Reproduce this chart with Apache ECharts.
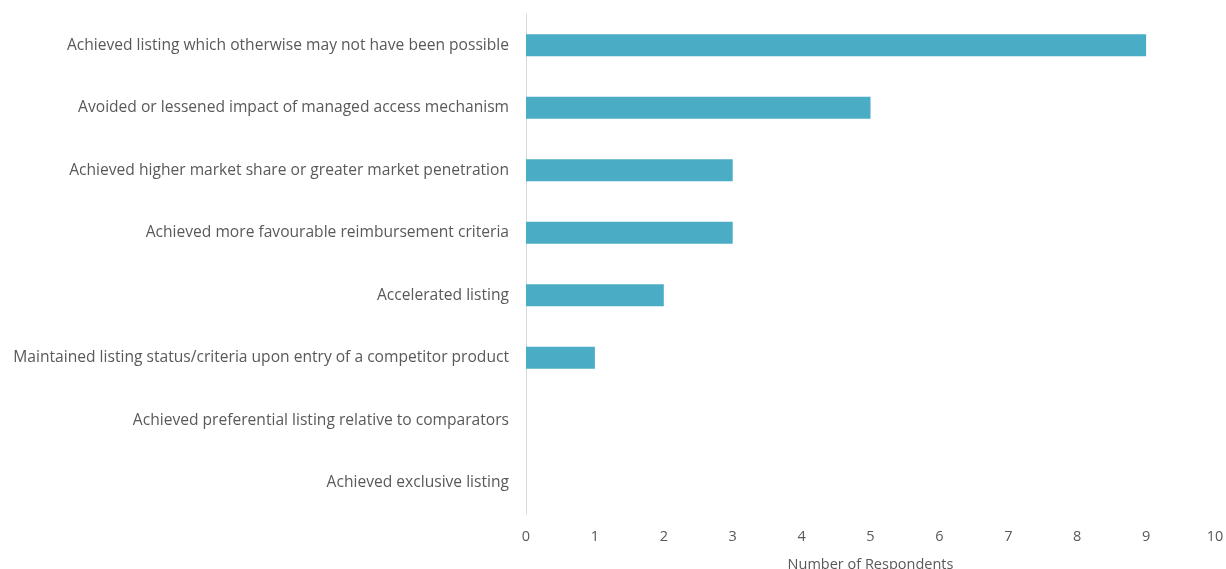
<!DOCTYPE html>
<html>
<head>
<meta charset="utf-8">
<script src="https://cdn.jsdelivr.net/npm/echarts@6/dist/echarts.min.js"></script>
<style>html,body{margin:0;padding:0;background:#fff}#c{width:1226px;height:569px}</style>
</head>
<body>
<div id="c"></div>
<script>
const categories = [
  "Achieved listing which otherwise may not have been possible",
  "Avoided or lessened impact of managed access mechanism",
  "Achieved higher market share or greater market penetration",
  "Achieved more favourable reimbursement criteria",
  "Accelerated listing",
  "Maintained listing status/criteria upon entry of a competitor product",
  "Achieved preferential listing relative to comparators",
  "Achieved exclusive listing"
];
const respondents = [9, 5, 3, 3, 2, 1, 0, 0];
const xAxisName = "Number of Respondents";

const chart = echarts.init(document.getElementById('c'));
const font = "'Open Sans', sans-serif";
chart.setOption({
  animation: false,
  grid: { left: 526, right: 11, top: 14, bottom: 55, containLabel: false, outerBoundsMode: 'none' },
  xAxis: {
    type: 'value', min: 0, max: 10, interval: 1,
    name: xAxisName, nameLocation: 'middle', nameGap: 43,
    nameTextStyle: { color: '#595959', fontSize: 14.5, fontFamily: font },
    axisLine: { show: false }, axisTick: { show: false },
    splitLine: { show: false },
    axisLabel: { color: '#595959', fontSize: 14.5, fontFamily: font, margin: 15 }
  },
  yAxis: {
    type: 'category', data: categories, inverse: true,
    axisLine: { show: true, lineStyle: { color: '#d9d9d9', width: 1 } },
    axisTick: { show: false },
    axisLabel: { color: '#595959', fontSize: 15.6, fontFamily: font, margin: 17, padding: [3, 0, 0, 0] }
  },
  series: [{
    type: 'bar', data: respondents, barWidth: '35%',
    itemStyle: { color: '#4BACC6' }
  }]
});
</script>
</body>
</html>
